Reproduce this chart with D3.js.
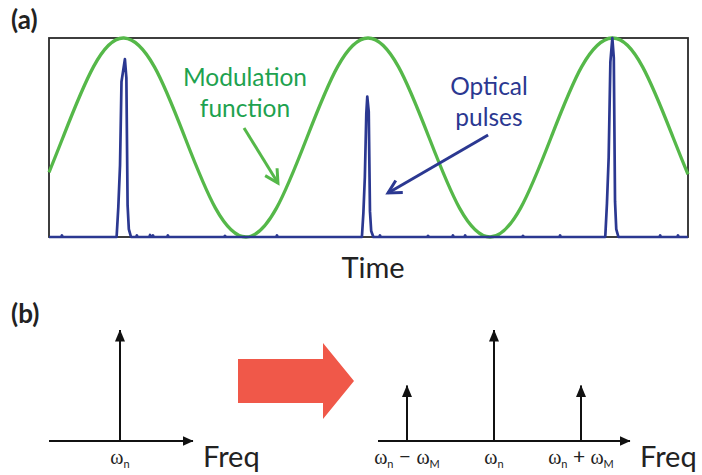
<!DOCTYPE html>
<html><head><meta charset="utf-8">
<script src="https://cdn.jsdelivr.net/npm/d3@7"></script>
<style>
html,body{margin:0;padding:0;background:#fff;}
svg{display:block;}
</style></head><body>
<svg id="chart" width="702" height="475"></svg>
<script>
// ---------- (a) time domain ----------
// Time measured in modulation periods (0 = first modulation maximum)
const timeRange = [-0.307, 2.311];

// Modulation function, sampled every 1/8 period, normalised to [-1, 1]
const modTime  = [-0.307, -0.25, -0.125, 0, 0.125, 0.25, 0.375, 0.5, 0.625, 0.75, 0.875, 1,
                  1.125, 1.25, 1.375, 1.5, 1.625, 1.75, 1.875, 2, 2.125, 2.25, 2.311];
const modLevel = [-0.35, 0, 0.71, 1, 0.71, 0, -0.71, -1, -0.71, 0, 0.71, 1,
                  0.71, 0, -0.71, -1, -0.71, 0, 0.71, 1, 0.71, 0, -0.37];

// Optical pulses (normalised intensity)
const pulse1Time  = [-0.030, -0.023, -0.016, -0.010, 0.004, 0.010, 0.015, 0.020, 0.029];
const pulse1Level = [0, 0.15, 0.36, 0.78, 0.894, 0.80, 0.16, 0.04, 0];
const pulse2Time  = [0.975, 0.981, 0.987, 0.993, 0.997, 1.003, 1.008, 1.013, 1.022];
const pulse2Level = [0, 0.12, 0.30, 0.62, 0.706, 0.63, 0.13, 0.03, 0];
const pulse3Time  = [1.972, 1.979, 1.986, 1.993, 2.001, 2.007, 2.012, 2.017, 2.026];
const pulse3Level = [0, 0.17, 0.40, 0.88, 1.0, 0.90, 0.18, 0.04, 0];

// Small detector-noise blips on the baseline
const noiseTime  = [-0.254, 0.053, 0.107, 0.119, 0.180, 0.414, 0.627, 1.049, 1.246, 1.348, 1.398, 1.635, 1.787, 2.197, 2.270];
const noiseLevel = [0.008, 0.008, 0.010, 0.008, 0.008, 0.006, 0.008, 0.008, 0.006, 0.008, 0.008, 0.006, 0.008, 0.008, 0.008];

// ---------- (b) frequency domain ----------
// Frequency offsets from ωn in units of ωM, amplitudes normalised
const inputFreq  = [0];
const inputAmp   = [1];
const inputLabel = [["ω", "n"]];
const outputFreq  = [-1, 0, 1];
const outputAmp   = [0.5, 1, 0.5];
const outputLabel = [["ω", "n", " − ", "ω", "M"], ["ω", "n"], ["ω", "n", " + ", "ω", "M"]];

const GREEN = "#55b849", GREEN_TEXT = "#1ea24f", BLUE = "#2b3891", RED = "#f05849";
const FONT = "Lato, 'Open Sans', sans-serif";
const GREEK = "'Liberation Serif', 'DejaVu Serif', serif";

const svg = d3.select("#chart");
const defs = svg.append("defs");

function openHead(id, color) {
  defs.append("marker").attr("id", id)
    .attr("markerUnits", "userSpaceOnUse").attr("viewBox", "-2 -2 20 20")
    .attr("markerWidth", 20).attr("markerHeight", 20)
    .attr("refX", 14).attr("refY", 8).attr("orient", "auto")
    .append("path").attr("d", "M1,1 L14,8 L1,15")
    .attr("fill", "none").attr("stroke", color).attr("stroke-width", 3)
    .attr("stroke-linecap", "butt").attr("stroke-linejoin", "miter");
}
function solidHead(id, len, wid) {
  defs.append("marker").attr("id", id)
    .attr("markerUnits", "userSpaceOnUse").attr("viewBox", `0 0 ${len} ${wid}`)
    .attr("markerWidth", len).attr("markerHeight", wid)
    .attr("refX", len - 0.5).attr("refY", wid / 2).attr("orient", "auto")
    .append("path").attr("d", `M0,0 L${len},${wid / 2} L0,${wid} Z`).attr("fill", "#111");
}
openHead("headGreen", GREEN);
openHead("headBlue", BLUE);
solidHead("stemHead", 12, 10);
solidHead("axisHead", 11, 10);

// ---------- panel (a) ----------
const x = d3.scaleLinear().domain(timeRange).range([49, 688]);
const yPulse = d3.scaleLinear().domain([0, 1]).range([237, 38]);
const yMod = d3.scaleLinear().domain([-1, 1]).range([237, 38]);

svg.append("text").attr("x", 11).attr("y", 29).text("(a)")
  .attr("font-family", FONT).attr("font-weight", 700).attr("font-size", 26).attr("fill", "#222");

svg.append("rect").attr("x", x(timeRange[0])).attr("y", yPulse(1))
  .attr("width", x(timeRange[1]) - x(timeRange[0])).attr("height", yPulse(0) - yPulse(1))
  .attr("fill", "none").attr("stroke", "#2a2a2a").attr("stroke-width", 1.8);

// optical pulse train: baseline + noise + pulses, ordered in time
let trace = [[timeRange[0], 0], [timeRange[1], 0]];
noiseTime.forEach((t, i) => {
  trace.push([t - 0.003, 0], [t, noiseLevel[i]], [t + 0.003, 0]);
});
[[pulse1Time, pulse1Level], [pulse2Time, pulse2Level], [pulse3Time, pulse3Level]].forEach(([ts, ls]) => {
  ts.forEach((t, i) => trace.push([t, ls[i]]));
});
trace.sort((a, b) => a[0] - b[0]);

svg.append("path").datum(modTime.map((t, i) => [t, modLevel[i]]))
  .attr("d", d3.line().x(d => x(d[0])).y(d => yMod(d[1])).curve(d3.curveNatural))
  .attr("fill", "none").attr("stroke", GREEN).attr("stroke-width", 3.3);

svg.append("path").datum(trace)
  .attr("d", d3.line().x(d => x(d[0])).y(d => yPulse(d[1])))
  .attr("fill", "none").attr("stroke", BLUE).attr("stroke-width", 2.7)
  .attr("stroke-linejoin", "round");

// annotations
function label(lines, cx, baselines, color, size) {
  lines.forEach((s, i) => svg.append("text").attr("x", cx).attr("y", baselines[i])
    .attr("text-anchor", "middle").attr("font-family", FONT).attr("font-size", size)
    .attr("fill", color).text(s));
}
label(["Modulation", "function"], 245, [86, 117], GREEN_TEXT, 24.5);
label(["Optical", "pulses"], 489, [95, 126], BLUE, 24.5);

svg.append("line")
  .attr("x1", x(0.492)).attr("y1", yMod(0.095)).attr("x2", x(0.631)).attr("y2", yMod(-0.457))
  .attr("stroke", GREEN).attr("stroke-width", 3).attr("marker-end", "url(#headGreen)");
svg.append("line")
  .attr("x1", x(1.492)).attr("y1", yMod(0.025)).attr("x2", x(1.082)).attr("y2", yMod(-0.558))
  .attr("stroke", BLUE).attr("stroke-width", 3).attr("marker-end", "url(#headBlue)");

svg.append("text").attr("x", 373).attr("y", 278).attr("text-anchor", "middle")
  .attr("font-family", FONT).attr("font-size", 29).attr("fill", "#222").text("Time");

// ---------- panel (b) ----------
svg.append("text").attr("x", 11).attr("y", 323).text("(b)")
  .attr("font-family", FONT).attr("font-weight", 700).attr("font-size", 26).attr("fill", "#222");

const yAmp = d3.scaleLinear().domain([0, 1]).range([441, 330]);

function spectrum(freqs, amps, labels, xs, freqLabelX) {
  const g = svg.append("g");
  const [d0, d1] = xs.domain();
  g.append("line").attr("x1", xs(d0)).attr("x2", xs(d1)).attr("y1", yAmp(0)).attr("y2", yAmp(0))
    .attr("stroke", "#111").attr("stroke-width", 2).attr("marker-end", "url(#axisHead)");
  g.selectAll("line.stem").data(freqs).join("line").attr("class", "stem")
    .attr("x1", d => xs(d)).attr("x2", d => xs(d))
    .attr("y1", yAmp(0)).attr("y2", (d, i) => yAmp(amps[i]))
    .attr("stroke", "#111").attr("stroke-width", 2).attr("marker-end", "url(#stemHead)");
  freqs.forEach((f, i) => {
    const t = g.append("text").attr("x", xs(f)).attr("y", 464).attr("text-anchor", "middle")
      .attr("fill", "#222");
    labels[i].forEach(p => {
      const sp = t.append("tspan").text(p);
      if (p === "ω") sp.attr("font-family", GREEK).attr("font-size", 20);
      else if (p === "n" || p === "M") sp.attr("font-family", FONT).attr("font-size", 11).attr("dy", 4);
      else sp.attr("font-family", FONT).attr("font-size", 21).attr("dy", -4);
    });
  });
  svg.append("text").attr("x", freqLabelX).attr("y", 467)
    .attr("font-family", FONT).attr("font-size", 29).attr("fill", "#222").text("Freq");
}
spectrum(inputFreq, inputAmp, inputLabel, d3.scaleLinear().domain([-0.816, 0.839]).range([49, 193]), 203);
spectrum(outputFreq, outputAmp, outputLabel, d3.scaleLinear().domain([-1.333, 1.563]).range([378, 630]), 640);

// conversion arrow between the two spectra
svg.append("path")
  .attr("transform", "translate(238,381)")
  .attr("d", "M0,-22 L85,-22 L85,-38 L116,0 L85,38 L85,22 L0,22 Z")
  .attr("fill", RED);
</script>
</body></html>
